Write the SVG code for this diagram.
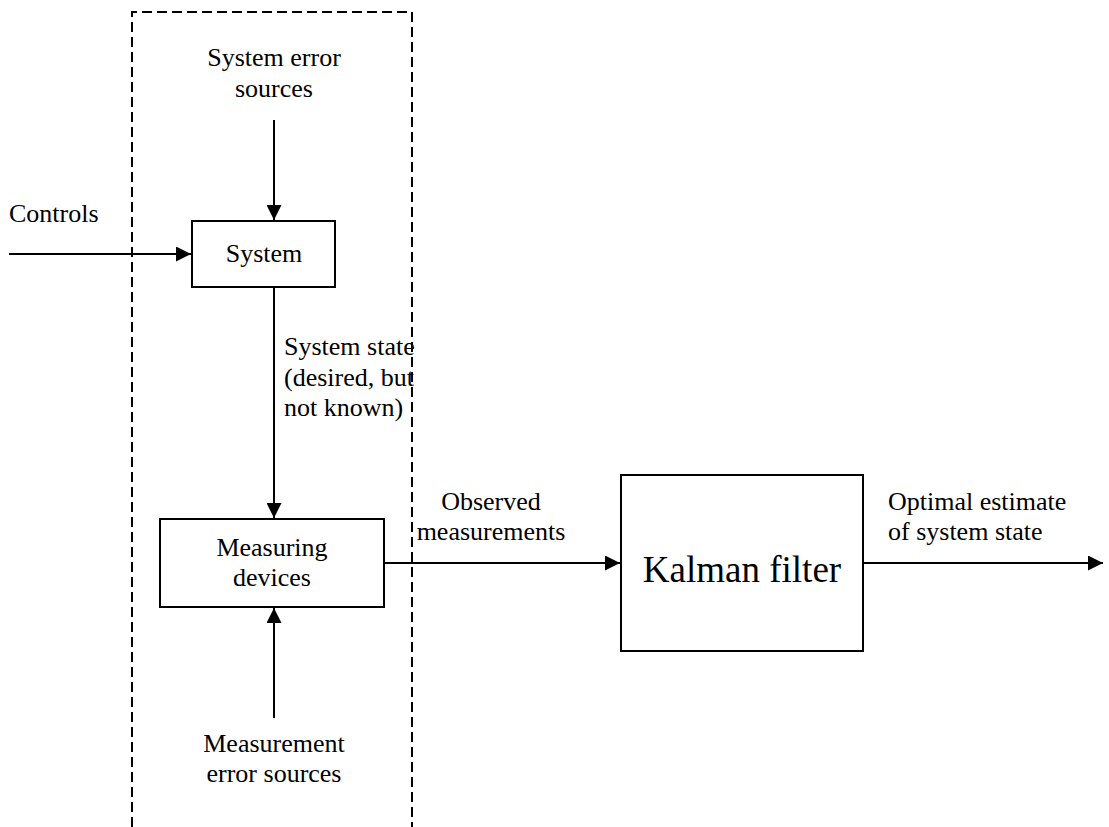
<svg xmlns="http://www.w3.org/2000/svg" width="1109" height="827" viewBox="0 0 1109 827">
<defs>
<marker id="ah" viewBox="0 0 15 15" refX="15" refY="7.5" markerWidth="15" markerHeight="15" markerUnits="userSpaceOnUse" orient="auto">
<path d="M0,0 L15,7.5 L0,15 Z" fill="#000"/>
</marker>
<style>
text{font-family:"Liberation Serif","Times New Roman",serif;font-size:26px;fill:#000}
.box{fill:#fff;stroke:#000;stroke-width:2}
.c{stroke:#000;stroke-width:2;fill:none;marker-end:url(#ah)}
.mid{text-anchor:middle}
</style>
</defs>
<rect width="1109" height="827" fill="#fff"/>
<g id="boundary">
<path d="M132,827 L132,12 L412,12 L412,827" fill="none" stroke="#000" stroke-width="2" stroke-dasharray="10,5"/>
</g>
<g id="connectors">
<line class="c" x1="274" y1="120" x2="274" y2="220"/>
<line class="c" x1="9" y1="254" x2="191" y2="254"/>
<line class="c" x1="274" y1="287" x2="274" y2="518"/>
<line class="c" x1="274" y1="718" x2="274" y2="608"/>
<line class="c" x1="384" y1="563" x2="620" y2="563"/>
<line class="c" x1="863" y1="563" x2="1103" y2="563"/>
</g>
<g id="system-error-sources"><text class="mid" x="274" y="66">System error</text><text class="mid" x="274" y="97">sources</text></g>
<g id="controls"><text x="9" y="222">Controls</text></g>
<g id="system"><rect class="box" x="192" y="221" width="143" height="66"/><text class="mid" x="264" y="262">System</text></g>
<g id="system-state"><text x="284" y="355">System state</text><text x="284" y="386">(desired, but</text><text x="284" y="416">not known)</text></g>
<g id="measuring-devices"><rect class="box" x="160" y="519" width="224" height="88"/><text class="mid" x="272" y="556">Measuring</text><text class="mid" x="272" y="586">devices</text></g>
<g id="measurement-error-sources"><text class="mid" x="274" y="752">Measurement</text><text class="mid" x="274" y="782">error sources</text></g>
<g id="observed"><text class="mid" x="491" y="510">Observed</text><text class="mid" x="491" y="540">measurements</text></g>
<g id="kalman-filter"><rect class="box" x="621" y="475" width="242" height="176"/><text class="mid" x="742" y="582" style="font-size:37px">Kalman filter</text></g>
<g id="optimal-estimate"><text x="888" y="510">Optimal estimate</text><text x="888" y="540">of system state</text></g>
</svg>
